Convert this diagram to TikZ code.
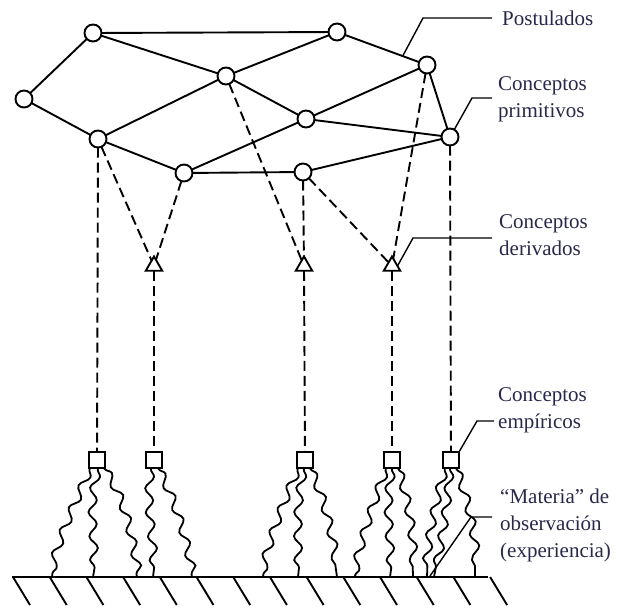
\documentclass[tikz,border=0pt]{standalone}
\usepackage{fontspec}
\setmainfont{Liberation Serif}
\usetikzlibrary{shapes.geometric,decorations.pathmorphing,calc}
\definecolor{labelcol}{RGB}{40,40,75}
\begin{document}
\begin{tikzpicture}[x=1pt,y=-1pt,
  cnode/.style={circle,draw,line width=1.9pt,minimum size=17pt,inner sep=0pt,outer sep=0pt,fill=white},
  tnode/.style={regular polygon,regular polygon sides=3,draw,line width=1.9pt,minimum size=19pt,inner sep=0pt,outer sep=0pt},
  snode/.style={rectangle,draw,line width=1.9pt,minimum size=16pt,inner sep=0pt,outer sep=0pt},
  sline/.style={line width=1.9pt},
  dline/.style={line width=1.9pt,dash pattern=on 10pt off 5pt},
  leader/.style={line width=1.4pt},
  wavy/.style={line width=1.8pt,decorate,decoration={snake,segment length=24pt,amplitude=4pt,pre length=1pt,post length=1pt}},
  lbl/.style={text=labelcol,font=\fontsize{21}{27}\selectfont,align=left,inner sep=0pt,anchor=west},
]
\useasboundingbox (0,0) rectangle (620,608);

% primitive concepts / postulates network
\node[cnode] (A) at (93,33) {};
\node[cnode] (B) at (337,32) {};
\node[cnode] (C) at (24,99) {};
\node[cnode] (D) at (226,76) {};
\node[cnode] (E) at (427,65) {};
\node[cnode] (F) at (306,119) {};
\node[cnode] (G) at (98,139) {};
\node[cnode] (H) at (450,137) {};
\node[cnode] (I) at (184,173) {};
\node[cnode] (J) at (303,172) {};

\draw[sline] (A) -- (B);
\draw[sline] (A) -- (C);
\draw[sline] (A) -- (D);
\draw[sline] (B) -- (D);
\draw[sline] (B) -- (E);
\draw[sline] (C) -- (G);
\draw[sline] (D) -- (G);
\draw[sline] (D) -- (F);
\draw[sline] (F) -- (E);
\draw[sline] (F) -- (H);
\draw[sline] (F) -- (I);
\draw[sline] (G) -- (I);
\draw[sline] (I) -- (J);
\draw[sline] (J) -- (H);
\draw[sline] (E) -- (H);

% derived concepts
\node[tnode] (T1) at (154,266) {};
\node[tnode] (T2) at (304,266) {};
\node[tnode] (T3) at (392,266) {};

% empirical concepts
\node[snode] (S1) at (97,460) {};
\node[snode] (S2) at (154,460) {};
\node[snode] (S3) at (305,460) {};
\node[snode] (S4) at (392,460) {};
\node[snode] (S5) at (451,460) {};

\draw[dline] (G) -- (T1);
\draw[dline] (I) -- (T1);
\draw[dline] (D) -- (T2);
\draw[dline] (J) -- (T2);
\draw[dline] (J) -- (T3);
\draw[dline] (E) -- (T3);
\draw[dline] (G) -- (S1);
\draw[dline] (T1) -- (S2);
\draw[dline] (T2) -- (S3);
\draw[dline] (T3) -- (S4);
\draw[dline] (H) -- (S5);

% ground
\draw[line width=1.9pt] (12,577) -- (488,577);
\foreach \i in {0,...,13}{
  \draw[line width=1.9pt] ({13+\i*36.7},577) -- ({30+\i*36.7},605);
}

% observation wavy lines
\draw[wavy] ([xshift=-7pt]S1.south) .. controls (75,505) and (58,535) .. (52,577);
\draw[wavy] ([xshift=1pt]S1.south) .. controls (88,510) and (100,540) .. (93,577);
\draw[wavy] ([xshift=7pt]S1.south) .. controls (125,500) and (130,540) .. (137,577);
\draw[wavy] ([xshift=-3pt]S2.south) .. controls (146,510) and (158,540) .. (153,577);
\draw[wavy] ([xshift=4pt]S2.south) .. controls (175,500) and (185,540) .. (192,577);
\draw[wavy] ([xshift=-7pt]S3.south) .. controls (285,500) and (268,540) .. (263,577);
\draw[wavy] ([xshift=-1pt]S3.south) .. controls (295,510) and (302,545) .. (298,577);
\draw[wavy] ([xshift=5pt]S3.south) .. controls (325,500) and (332,540) .. (337,577);
\draw[wavy] ([xshift=-6pt]S4.south) .. controls (375,500) and (360,540) .. (355,577);
\draw[wavy] ([xshift=0pt]S4.south) .. controls (385,510) and (395,545) .. (390,577);
\draw[wavy] ([xshift=6pt]S4.south) .. controls (410,505) and (412,540) .. (413,577);
\draw[wavy] ([xshift=-6pt]S5.south) .. controls (435,505) and (428,540) .. (427,577);
\draw[wavy] ([xshift=-1pt]S5.south) .. controls (447,510) and (440,545) .. (434,577);
\draw[wavy] ([xshift=5pt]S5.south) .. controls (470,505) and (475,540) .. (475,577);

% labels
\node[lbl] (Lpos) at (502,18) {Postulados};
\node[lbl] (Lpri) at (498,99) {Conceptos\\primitivos};
\node[lbl] (Lder) at (499,235) {Conceptos\\derivados};
\node[lbl] (Lemp) at (498,410) {Conceptos\\empíricos};
\node[lbl] (Lmat) at (500,525) {“Materia” de\\observación\\(experiencia)};

% leaders
\coordinate (pBE) at ($(B)!0.73!(E)$);
\draw[leader] (pBE) -- (423,18) -- ([xshift=-10pt]Lpos.west);
\draw[leader] (H.60) -- (472,98) -- (492,98);
\draw[leader] (T3.east) -- (413,238) -- (492,238);
\draw[leader] (S5.north east) -- (477,421) -- (494,421);
\coordinate (gm) at (430,576);
\draw[leader] (gm) -- (471,517) -- (492,517);
\end{tikzpicture}
\end{document}
